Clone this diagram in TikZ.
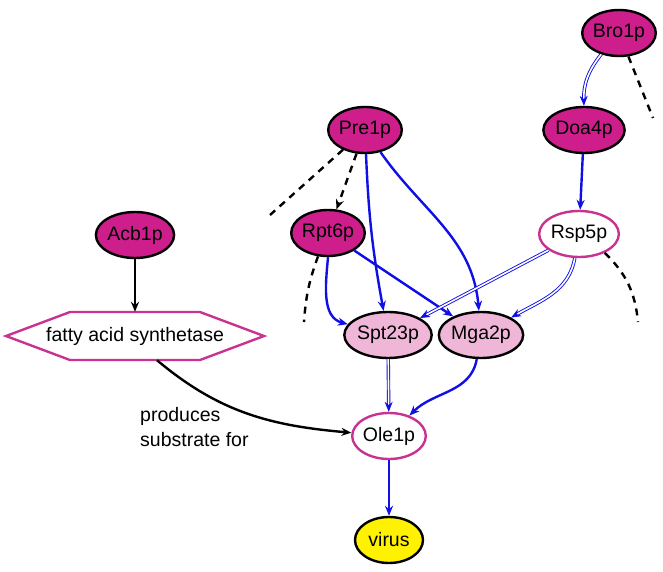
\documentclass[tikz,border=0pt]{standalone}
\usepackage{fontspec}
\setmainfont{Liberation Sans}
\usetikzlibrary{shapes.geometric,arrows.meta}

\definecolor{hub}{RGB}{205,30,140}
\definecolor{soft}{RGB}{240,182,216}
\definecolor{rim}{RGB}{200,50,145}
\definecolor{edge}{RGB}{15,15,230}

\tikzset{
	prot/.style={draw,ellipse,line width=2.4pt,inner sep=0,minimum width=68pt,minimum height=46pt,font=\fontsize{19.5}{22}\selectfont},
	dark/.style={prot,fill=hub},
	pale/.style={prot,fill=soft},
	hollow/.style={prot,draw=rim,fill=white},
	act/.style={draw=edge,line width=2.4pt,-{Stealth[length=10pt,width=8pt]}},
	bind/.style={draw=edge,line width=0.9pt,double=white,double distance=1.6pt,-{Stealth[length=10pt,width=8pt]}},
	maybe/.style={line width=2.4pt,dash pattern=on 7pt off 6pt},
}

\begin{document}
\begin{tikzpicture}[x=1pt,y=-1pt]
	\useasboundingbox (0,0) rectangle (663,572);
	\node[dark] (bro) at (619,33) {Bro1p};
	\node[dark] (doa) at (584,130) {Doa4p};
	\node[dark] (pre) at (365,130) {Pre1p};
	\node[dark] (acb) at (135,235) {Acb1p};
	\node[dark] (rpt) at (328,233) {Rpt6p};
	\node[hollow] (rsp) at (579,234) {Rsp5p};
	\node[inner sep=0,minimum width=130pt,minimum height=48pt,font=\fontsize{19.5}{22}\selectfont] (fas) at (135,336) {fatty acid synthetase};
	\node[pale] (spt) at (388,335) {Spt23p};
	\node[pale] (mga) at (481,335) {Mga2p};
	\node[hollow] (ole) at (389,436) {Ole1p};
	\node[prot,fill=yellow] (vir) at (389,540) {virus};
	\node[anchor=north west,align=left,inner sep=0,font=\fontsize{19.5}{25}\selectfont] (lab) at (140,407) {produces\\substrate for};
	\coordinate (pre-off) at (270,215);
	\coordinate (bro-off) at (653,118);
	\coordinate (rpt-off) at (304,322);
	\coordinate (rsp-off) at (638,322);
	\draw[rim,line width=2.4pt] ([xshift=-129pt]fas.center) -- ++(64,-24) -- ++(130,0) -- ++(64,24) -- ++(-64,24) -- ++(-130,0) -- cycle;
	% dashed links
	\draw[maybe] (pre) -- (pre-off);
	\draw[maybe,-{Stealth[length=10pt,width=8pt]}] (pre) -- (rpt);
	\draw[maybe] (bro) -- (bro-off);
	\draw[maybe] (rpt) to[bend right=8] (rpt-off);
	\draw[maybe] (rsp) to[bend left=20] (rsp-off);
	% blue links
	\draw[bind] (bro) to[bend right=20] (doa);
	\draw[act] (doa) -- (rsp);
	\draw[act] (pre) to[bend right=4] (spt);
	\draw[act] (pre) to[out=-55,in=95] (mga);
	\draw[act] (rpt.south) to[out=-95,in=165] (spt);
	\draw[act] (rpt) -- (mga);
	\draw[bind] (rsp) -- (spt);
	\draw[bind] (rsp) to[out=-100,in=30] (mga);
	\draw[bind] (spt) -- (ole);
	\draw[act] (mga) to[out=-100,in=45] (ole);
	\draw[act] (ole) -- (vir);
	% black links
	\draw[line width=2.4pt,-{Stealth[length=10pt,width=8pt]}] (acb) -- (fas);
	\draw[line width=2.4pt,-{Stealth[length=10pt,width=8pt]}] ([xshift=22pt]fas.south) to[out=-40,in=175] (ole);
\end{tikzpicture}
\end{document}
